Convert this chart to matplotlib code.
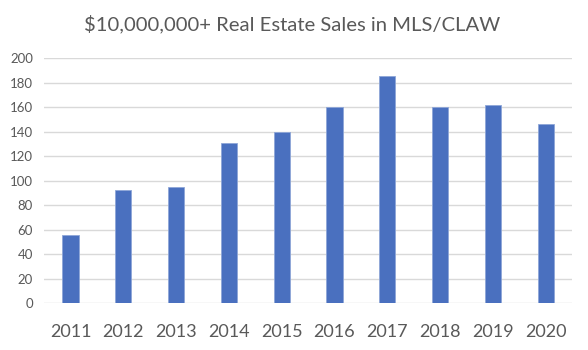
import matplotlib.pyplot as plt

years = ["2011", "2012", "2013", "2014", "2015", "2016", "2017", "2018", "2019", "2020"]
sales = [56, 92, 95, 131, 140, 160, 185, 160, 162, 146]

plt.rcParams['font.family'] = ['Lato', 'DejaVu Sans']

fig = plt.figure(figsize=(5.88, 3.5), dpi=100)
ax = fig.add_axes([0.075, 0.134, 0.898, 0.7])

ax.bar(years, sales, width=0.31, color="#4a70bf", edgecolor="#8ea6d8", linewidth=0.6, zorder=3)

ax.set_ylim(0, 200)
ax.set_yticks(range(0, 201, 20))
ax.set_xlim(-0.5, len(years) - 0.5)
ax.grid(axis='y', color="#d9d9d9", linewidth=1, zorder=0)
for s in ax.spines.values():
    s.set_visible(False)
ax.tick_params(axis='both', length=0, colors="#595959")
ax.tick_params(axis='y', labelsize=9.5, pad=8)
ax.tick_params(axis='x', labelsize=13, pad=15)

fig.text(0.497, 0.932, "$10,000,000+ Real Estate Sales in MLS/CLAW", ha='center', va='center',
         fontsize=14.6, color="#595959")

fig.savefig("out.png", dpi=100)
